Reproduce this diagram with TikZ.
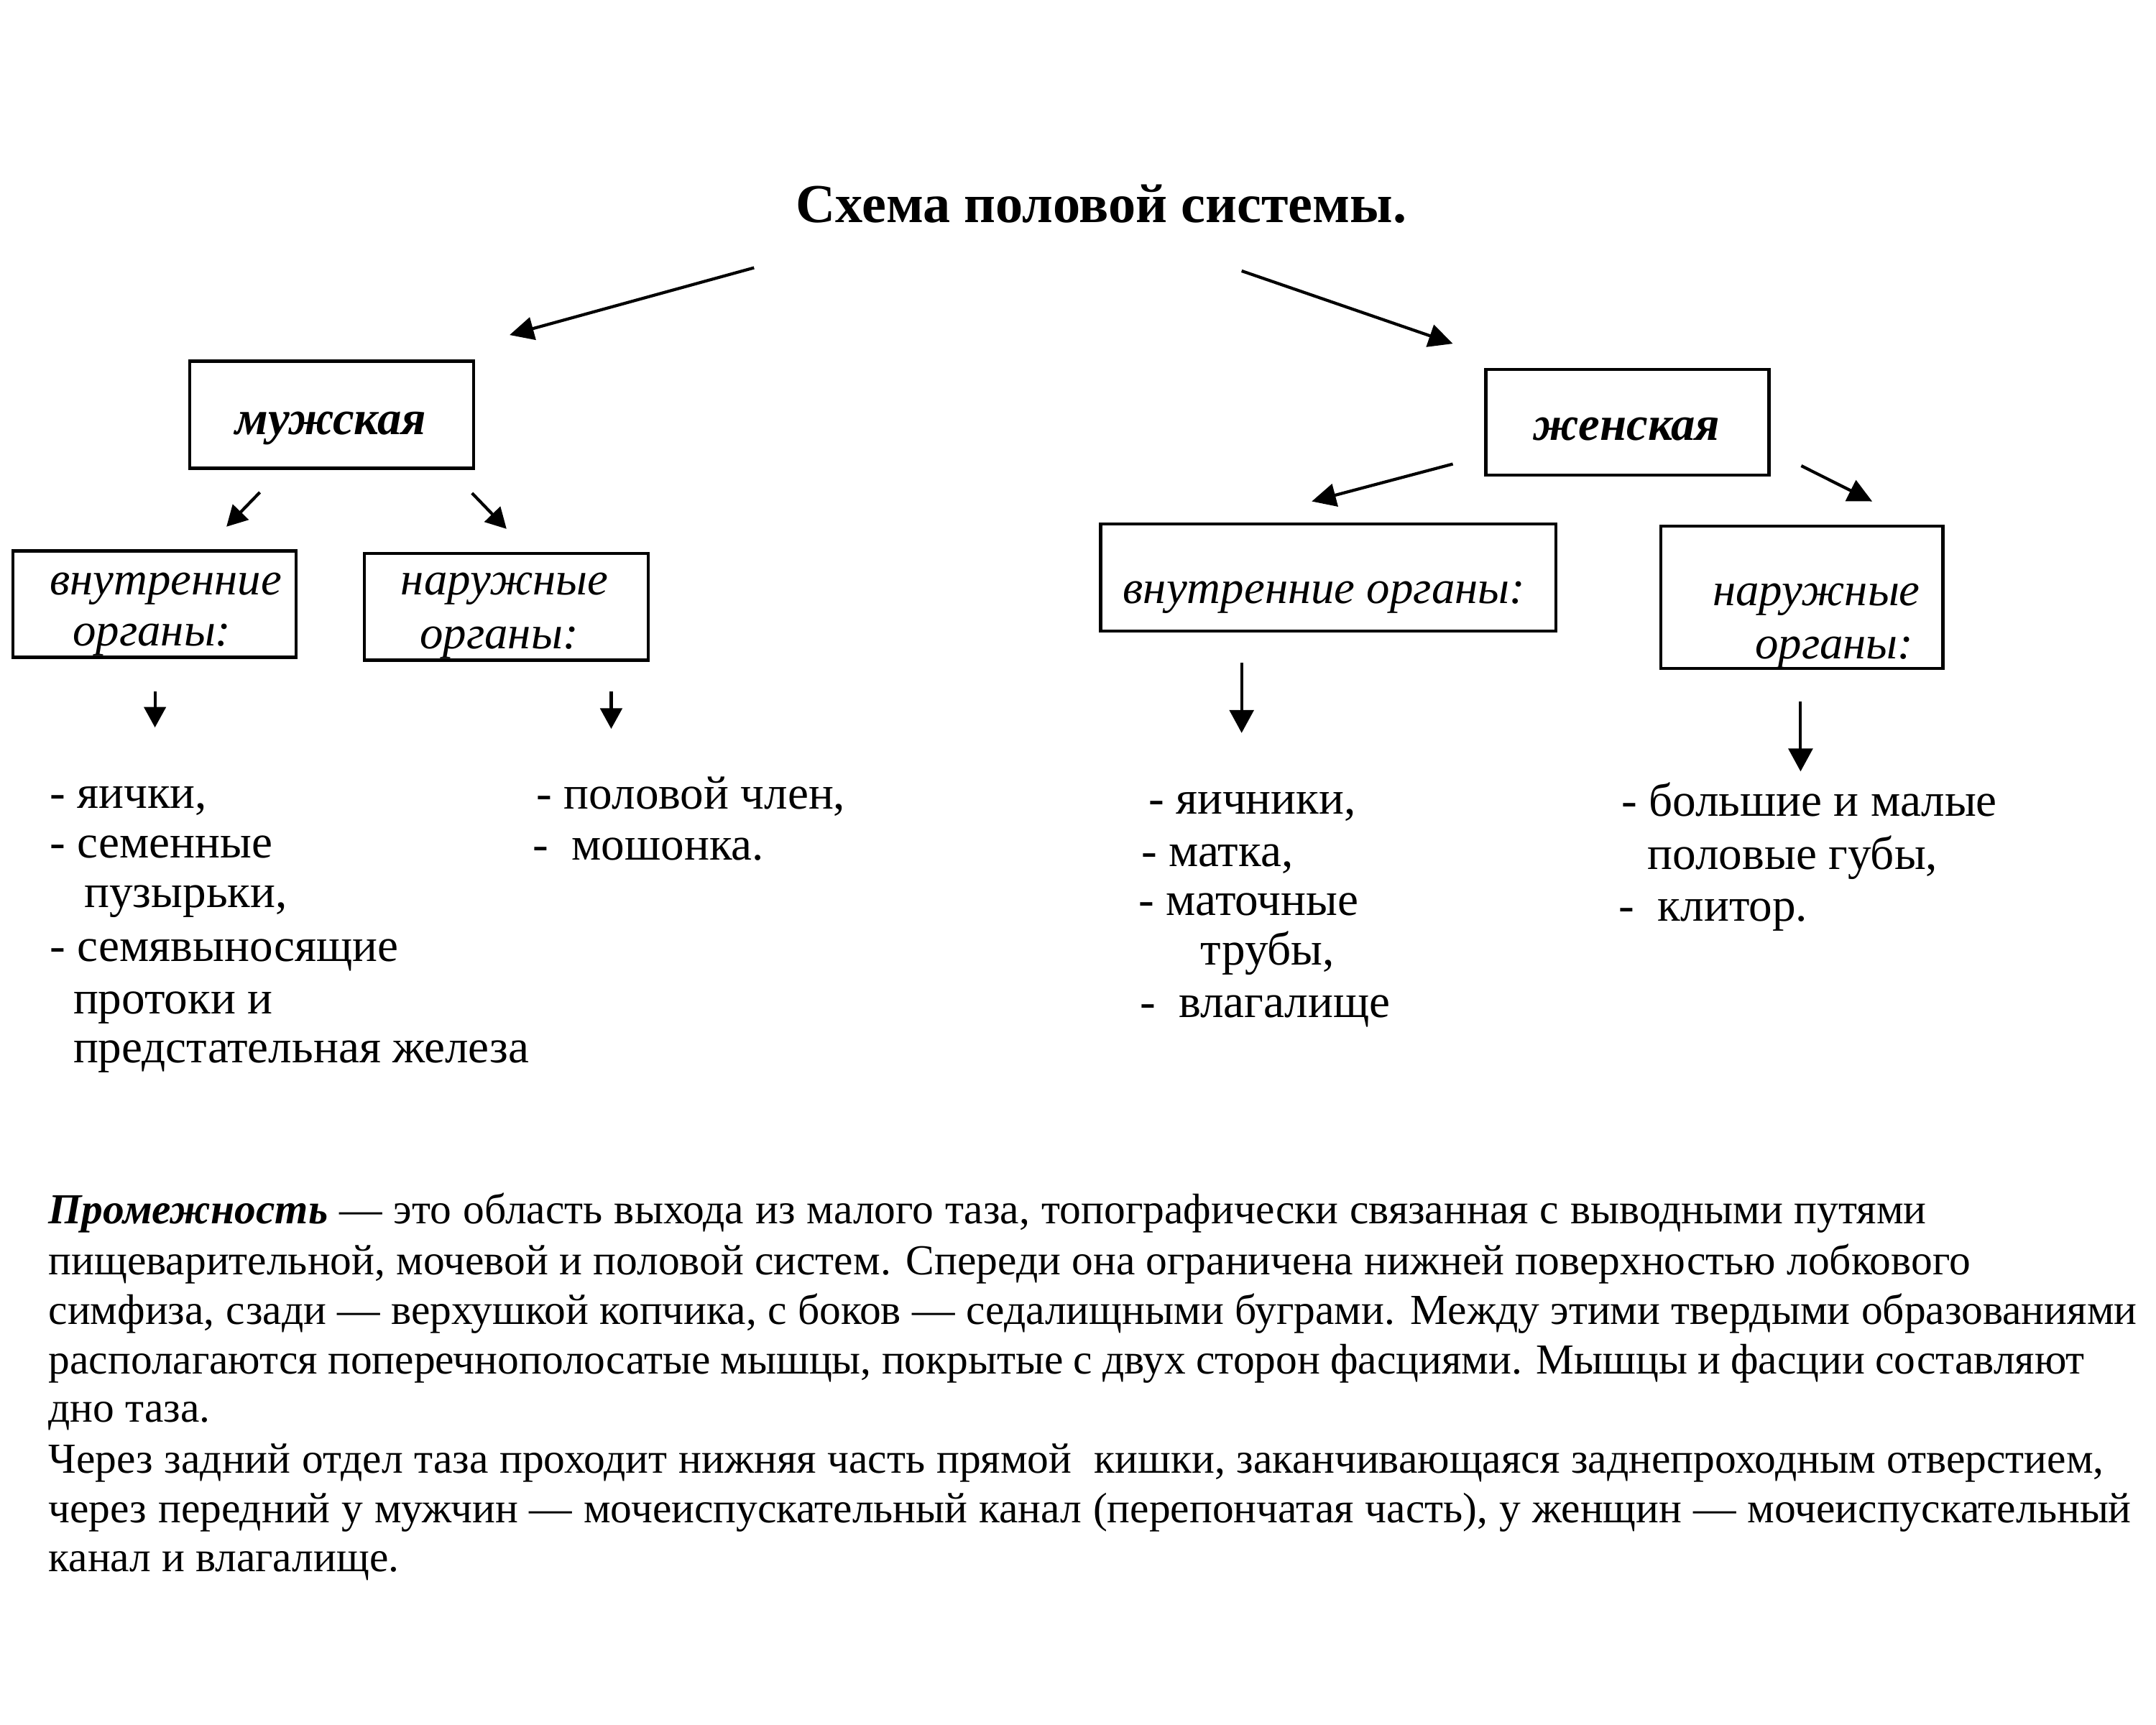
\documentclass[tikz,border=0pt]{standalone}
\usepackage{fontspec}
\setmainfont{Liberation Serif}
\usetikzlibrary{arrows.meta}
\begin{document}
\begin{tikzpicture}[x=0.02cm,y=-0.02cm,
 box/.style={draw, line width=1.3pt, rectangle, inner sep=0pt},
 boxlabel/.style={anchor=base, inner sep=0pt, font=\fontsize{19.3}{22}\selectfont\itshape},
 headlabel/.style={anchor=base, inner sep=0pt, font=\fontsize{19.9}{24}\selectfont\bfseries\itshape},
 txt/.style={anchor=base west, inner sep=0pt},
 item/.style={txt, font=\fontsize{19.4}{22}\selectfont},
 para/.style={txt, font=\fontsize{17.7}{20}\selectfont},
 bigarrow/.style={line width=1.25pt, -{Triangle[length=10pt,width=9.5pt]}},
 smallarrow/.style={line width=1.25pt, -{Triangle[length=8.5pt,width=9pt]}},
 downarrow/.style={line width=1.2pt, -{Triangle[length=9.5pt,width=10pt]}},
]
\useasboundingbox (0,0) rectangle (1568,1254);

% title
\node[font=\fontsize{22.7}{26}\selectfont\bfseries, anchor=base, inner sep=0pt] (title) at (801,162) {Схема половой системы.};

% boxes
\node[box, minimum width=4.13cm, minimum height=1.56cm] (male) at (241.3,301.6) {};
\node[headlabel] (male-t) at (240.5,316) {мужская};
\node[box, minimum width=4.12cm, minimum height=1.54cm] (female) at (1183.5,307) {};
\node[headlabel] (female-t) at (1183,320) {женская};
\node[box, minimum width=4.12cm, minimum height=1.55cm] (mint) at (112.5,439.3) {};
\node[boxlabel] (mint-a) at (120.5,432.5) {внутренние};
\node[boxlabel] (mint-b) at (110.5,469.5) {органы:};
\node[box, minimum width=4.13cm, minimum height=1.55cm] (mext) at (368.3,441.3) {};
\node[boxlabel] (mext-a) at (367,432.5) {наружные};
\node[boxlabel] (mext-b) at (363,471.5) {органы:};
\node[box, minimum width=6.62cm, minimum height=1.56cm] (fint) at (966,420) {};
\node[boxlabel] (fint-t) at (963,439) {внутренние органы:};
\node[box, minimum width=4.1cm, minimum height=2.07cm] (fext) at (1310.5,434.3) {};
\node[boxlabel] (fext-a) at (1321,440.5) {наружные};
\node[boxlabel] (fext-b) at (1334,479) {органы:};

% arrow end points
\coordinate (a1s) at (548.4,194.7); \coordinate (a1e) at (370.6,243.6);
\coordinate (a2s) at (903,197);     \coordinate (a2e) at (1056.6,249.9);
\coordinate (m1s) at (189,358);     \coordinate (m1e) at (164.7,383);
\coordinate (m2s) at (343.3,358.6); \coordinate (m2e) at (368.4,384.6);
\coordinate (f1s) at (1056.6,337.4);\coordinate (f1e) at (954,364.6);
\coordinate (f2s) at (1310,338.7);  \coordinate (f2e) at (1361.6,364.6);
\coordinate (d1s) at (112.7,503);   \coordinate (d1e) at (112.7,529);
\coordinate (d2s) at (444.5,503);   \coordinate (d2e) at (444.5,530);
\coordinate (d3s) at (903,482);     \coordinate (d3e) at (903,533);
\coordinate (d4s) at (1309.5,510);  \coordinate (d4e) at (1309.5,561);

\draw[bigarrow] (a1s) -- (a1e);
\draw[bigarrow] (a2s) -- (a2e);
\draw[smallarrow] (m1s) -- (m1e);
\draw[smallarrow] (m2s) -- (m2e);
\draw[bigarrow] (f1s) -- (f1e);
\draw[bigarrow] (f2s) -- (f2e);
\draw[smallarrow] (d1s) -- (d1e);
\draw[smallarrow] (d2s) -- (d2e);
\draw[downarrow] (d3s) -- (d3e);
\draw[downarrow] (d4s) -- (d4e);

% male internal list
\node[item] (mi1) at (36,587.5) {- яички,};
\node[item] (mi2) at (36,624) {- семенные};
\node[item] (mi3) at (61,660) {пузырьки,};
\node[item] (mi4) at (36,699) {- семявыносящие};
\node[item] (mi5) at (53,737) {протоки и};
\node[item] (mi6) at (53,773) {предстательная железа};

% male external list
\node[item] (me1) at (390,588) {- половой член,};
\node[item] (me2) at (387,625.5) {-\ \ мошонка.};

% female internal list
\node[item] (fi1) at (835,592) {- яичники,};
\node[item] (fi2) at (830,630) {- матка,};
\node[item] (fi3) at (828,665.5) {- маточные};
\node[item] (fi4) at (873,701.5) {трубы,};
\node[item] (fi5) at (828.6,740) {-\ \ влагалище};

% female external list
\node[item] (fe1) at (1179,593.5) {- большие и малые};
\node[item] (fe2) at (1198,632) {половые губы,};
\node[item] (fe3) at (1177,670) {-\ \ клитор.};

% paragraph
\node[para] (p1) at (35,890) {\makebox[27.32cm][s]{\textbf{\textit{Промежность}} — это область выхода из малого таза, топографически связанная с выводными путями}};
\node[para] (p2) at (35,927) {\makebox[27.96cm][s]{пищеварительной, мочевой и половой систем. Спереди она ограничена нижней поверхностью лобкового}};
\node[para] (p3) at (35,963) {\makebox[30.38cm][s]{симфиза, сзади — верхушкой копчика, с боков — седалищными буграми. Между этими твердыми образованиями}};
\node[para] (p4) at (35,999) {\makebox[29.62cm][s]{располагаются поперечнополосатые мышцы, покрытые с двух сторон фасциями. Мышцы и фасции составляют}};
\node[para] (p5) at (35,1034) {дно таза.};
\node[para] (p6) at (35,1071) {\makebox[29.90cm][s]{Через задний отдел таза проходит нижняя часть прямой\ \ кишки, заканчивающаяся заднепроходным отверстием,}};
\node[para] (p7) at (35,1107) {\makebox[30.30cm][s]{через передний у мужчин — мочеиспускательный канал (перепончатая часть), у женщин — мочеиспускательный}};
\node[para] (p8) at (35,1143) {канал и влагалище.};
\end{tikzpicture}
\end{document}
